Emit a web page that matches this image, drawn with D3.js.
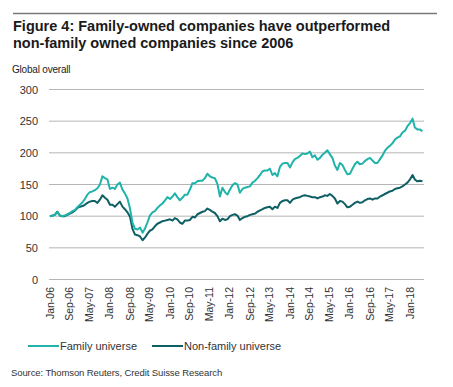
<!DOCTYPE html>
<html>
<head>
<meta charset="utf-8">
<script src="https://cdn.jsdelivr.net/npm/d3@7"></script>
<style>
  body { margin: 0; background: #fff; }
  text { font-family: "Liberation Sans", Arial, sans-serif; }
</style>
</head>
<body>
<script>
var w = 453, h = 387;

// monthly index values, Jan-06 .. Jun-18
var startMonth = new Date(2006, 0, 1);
var family = [100,100.5,102,107,101,100,101,103,105,108,110,114,118,122,127,134,138,139,141,144,
  150,163,160,158,143,145,143,150,153,142,136,128,112,90,80,79,82,74,80,90,
  101,106,108,113,117,120,125,130,127,131,136,130,125,129,134,134,142,152,152,155,
  156,156,160,167,163,161,160,151,131,145,138,134,142,149,152,150,137,143,145,146,
  147,153,156,160,165,171,172,172,175,165,168,163,178,183,184,184,177,185,190,192,
  195,199,198,199,202,193,196,189,192,197,200,204,198,192,180,173,184,181,173,166,
  167,175,182,186,182,183,187,190,192,188,184,184,190,196,203,208,211,215,221,224,
  226,232,235,242,247,254,240,237,237,234];
var nonFamily = [100,101,102,107,101,100,100,102,104,106,109,113,115,116,118,121,123,124,124,121,
  126,133,129,126,118,118,115,119,123,115,111,106,99,80,71,70,68,62,66,72,
  77,79,84,88,90,92,93,94,95,93,97,95,90,88,93,93,94,99,98,103,
  105,107,108,112,110,107,105,100,92,96,94,95,100,102,103,101,94,97,99,100,
  102,103,104,107,109,111,113,114,115,111,115,113,121,124,125,125,121,126,128,129,
  130,132,133,132,131,130,130,128,130,131,133,132,135,132,128,120,124,123,119,114,
  115,118,121,123,121,122,125,127,128,126,128,128,131,133,135,137,139,140,143,144,
  145,147,150,153,158,165,158,155,156,155];
var yTicks = [0, 50, 100, 150, 200, 250, 300];
var xTickLabels = ['Jan-06','Sep-06','May-07','Jan-08','Sep-08','May-09','Jan-10','Sep-10','May-11',
  'Jan-12','Sep-12','May-13','Jan-14','Sep-14','May-15','Jan-16','Sep-16','May-17','Jan-18'];
var seriesNames = ['Family universe', 'Non-family universe'];
var colors = ['#20b3aa', '#0e5f64'];

var dates = family.map(function(d, i){
  return new Date(startMonth.getFullYear(), startMonth.getMonth() + i, 1);
});
var tickDates = xTickLabels.map(function(d, i){
  return new Date(2006, i * 8, 1);
});

var svg = d3.select('body').append('svg')
  .attr('width', w)
  .attr('height', h);

// top rule + title
svg.append('line')
  .attr('x1', 13).attr('x2', 437).attr('y1', 13.5).attr('y2', 13.5)
  .attr('stroke', '#7a7a7a').attr('stroke-width', 1.5);
svg.append('text').attr('x', 13).attr('y', 31)
  .attr('font-size', 14.5).attr('font-weight', 'bold').attr('fill', '#1a1a1a')
  .text('Figure 4: Family-owned companies have outperformed');
svg.append('text').attr('x', 13).attr('y', 48)
  .attr('font-size', 14.5).attr('font-weight', 'bold').attr('fill', '#1a1a1a')
  .text('non-family owned companies since 2006');
svg.append('text').attr('x', 12).attr('y', 73)
  .attr('font-size', 10).attr('fill', '#222').attr('letter-spacing', -0.2)
  .text('Global overall');

var x = d3.scaleTime()
  .domain([startMonth, new Date(2018, 0, 1)])
  .range([50, 410]);
var y = d3.scaleLinear().domain([0, 300]).range([279.5, 89.5]);

// gridlines
svg.append('g').selectAll('line')
  .data(yTicks)
  .enter()
  .append('line')
  .attr('x1', 49).attr('x2', 424)
  .attr('y1', function(d){ return y(d); })
  .attr('y2', function(d){ return y(d); })
  .attr('stroke', '#b5b5b5')
  .attr('stroke-width', 1);

// y labels
svg.append('g').selectAll('text')
  .data(yTicks)
  .enter()
  .append('text')
  .attr('x', 38)
  .attr('y', function(d){ return y(d) + 4; })
  .attr('text-anchor', 'end')
  .attr('font-size', 11)
  .attr('fill', '#333')
  .text(function(d){ return d; });

// x labels, rotated
svg.append('g').selectAll('text')
  .data(tickDates)
  .enter()
  .append('text')
  .attr('transform', function(d){ return 'translate(' + (x(d) + 3.5) + ',287) rotate(-90)'; })
  .attr('text-anchor', 'end')
  .attr('font-size', 10.5)
  .attr('fill', '#333')
  .text(function(d, i){ return xTickLabels[i]; });

var line = d3.line()
  .x(function(d, i){ return x(dates[i]); })
  .y(function(d){ return y(d); });

[nonFamily, family].forEach(function(s, k){
  svg.append('path')
    .datum(s)
    .attr('fill', 'none')
    .attr('stroke', k == 0 ? colors[1] : colors[0])
    .attr('stroke-width', 2)
    .attr('stroke-linejoin', 'round')
    .attr('d', line);
});

// legend
var legX = [28, 152];
seriesNames.forEach(function(name, i){
  svg.append('line')
    .attr('x1', legX[i]).attr('x2', legX[i] + 31)
    .attr('y1', 346).attr('y2', 346)
    .attr('stroke', colors[i]).attr('stroke-width', 2);
  svg.append('text')
    .attr('x', legX[i] + 32).attr('y', 350)
    .attr('font-size', 11).attr('fill', '#333')
    .text(name);
});

svg.append('text').attr('x', 11).attr('y', 376)
  .attr('font-size', 9.5).attr('fill', '#333').attr('letter-spacing', -0.1)
  .text('Source: Thomson Reuters, Credit Suisse Research');
</script>
</body>
</html>
